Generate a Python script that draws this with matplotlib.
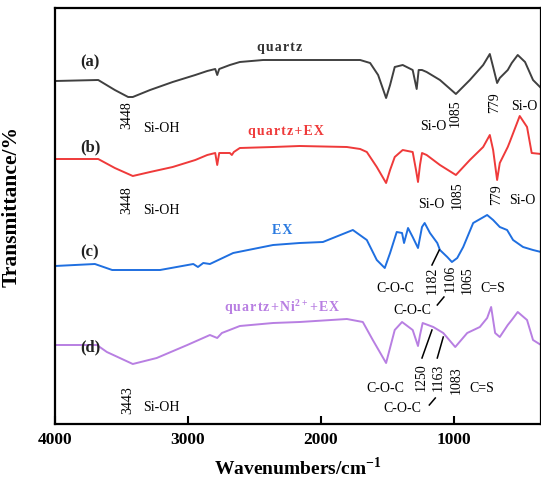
import matplotlib
matplotlib.use('Agg')
from matplotlib import pyplot as plt

plt.rcParams['font.family'] = ['Liberation Serif', 'DejaVu Serif']
plt.rcParams['mathtext.fontset'] = 'custom'
plt.rcParams['mathtext.rm'] = 'Liberation Serif'
plt.rcParams['mathtext.bf'] = 'Liberation Serif:bold'

# wavenumbers (cm-1) and transmittance (arbitrary, offset)
wn_a = [4000, 3675, 3550, 3450, 3415, 3285, 3115, 2945, 2855, 2795, 2780, 2765, 2685, 2610,
        2435, 2160, 1705, 1630, 1570, 1510, 1480, 1445, 1385, 1310, 1280, 1265, 1240, 1205,
        1105, 985, 880, 780, 730, 705, 675, 655, 595, 565, 520, 465, 405, 345]
t_a = [349, 350, 340, 333, 333, 340, 348, 355, 359, 361, 355, 361, 365, 368,
       370, 370, 370, 367, 355, 332, 345, 363, 365, 360, 341, 360, 360, 358,
       350, 336, 350, 365, 376, 363, 347, 352, 360, 367, 375, 368, 350, 342]

wn_b = [4000, 3675, 3550, 3415, 3285, 3115, 2945, 2855, 2795, 2780, 2765, 2685, 2670, 2655,
        2610, 2360, 2160, 1805, 1705, 1655, 1580, 1510, 1480, 1445, 1385, 1310, 1285, 1270,
        1255, 1240, 1205, 1105, 985, 880, 780, 730, 705, 675, 655, 595, 580, 505, 450, 415, 345]
t_b = [271, 271, 262, 254, 258, 263, 270, 275, 277, 265, 277, 277, 275, 278,
       282, 283, 284, 283, 281, 278, 263, 247, 260, 273, 280, 278, 260, 248,
       265, 277, 275, 265, 255, 270, 283, 295, 280, 250, 267, 283, 288, 314, 303, 277, 276]

wn_c = [4000, 3700, 3570, 3210, 2960, 2925, 2885, 2835, 2660, 2360, 2160, 1985, 1760, 1655,
        1580, 1520, 1480, 1430, 1390, 1375, 1345, 1310, 1270, 1240, 1220, 1180, 1125, 1105,
        1050, 1015, 975, 930, 855, 750, 705, 655, 600, 555, 480, 405, 345]
t_c = [164, 166, 160, 160, 166, 163, 167, 166, 177, 185, 187, 188, 200, 190,
       170, 162, 177, 198, 197, 187, 202, 193, 182, 203, 207, 197, 187, 180,
       173, 168, 172, 183, 207, 215, 210, 203, 200, 190, 183, 180, 178]

wn_d = [4000, 3685, 3610, 3415, 3235, 3005, 2835, 2780, 2745, 2610, 2360, 2160, 1805, 1685,
        1610, 1510, 1445, 1390, 1310, 1285, 1270, 1255, 1235, 1155, 1080, 990, 900, 805,
        750, 720, 690, 655, 595, 565, 520, 450, 405, 345]
t_d = [85, 85, 78, 66, 72, 85, 95, 92, 97, 104, 107, 108, 111, 108,
       90, 67, 100, 108, 100, 90, 84, 95, 107, 103, 97, 83, 97, 103,
       112, 123, 97, 93, 105, 110, 118, 110, 90, 85]

series = [(wn_a, t_a, '#404040'), (wn_b, t_b, '#ef3a3a'),
          (wn_c, t_c, '#1f6fe0'), (wn_d, t_d, '#b87fe2')]

fig = plt.figure(figsize=(5.41, 4.86), dpi=100)
ax = fig.add_axes([55 / 541, 62 / 486, 1 - 55 / 541, 416 / 486])

for wn, t, c in series:
    ax.plot(wn, t, color=c, lw=1.4)

ax.set_xlim(4000, 345)
ax.set_ylim(6, 422)
ax.set_xticks([4000, 3000, 2000, 1000])
ax.set_yticks([])
ax.tick_params(axis='x', direction='in', length=6, width=1.5, pad=6, labelsize=12.5)
for lab in ax.get_xticklabels():
    lab.set_fontweight('bold')
for s in ax.spines.values():
    s.set_linewidth(1.6)

ax.set_xlabel('Wavenumbers/cm$^{\\mathbf{-1}}$', fontsize=14, fontweight='bold', labelpad=6)
ax.set_ylabel('Transmittance/%', fontsize=15.5, fontweight='bold')
ax.yaxis.set_label_coords(-0.068, 0.524)

# curve letters
for txt, y in [('(a)', 368), ('(b)', 283), ('(c)', 178), ('(d)', 83)]:
    ax.text(3737, y, txt, fontsize=12, fontweight='bold', ha='center', va='center', color='#222222')

# sample names (letter spaced)
def spaced(s):
    return '\u200a'.join(s)

ax.text(2308, 382, spaced('quartz'), fontsize=10, fontweight='bold', ha='center', va='center', color='#333333')
ax.text(2263, 298, spaced('quartz+EX'), fontsize=10, fontweight='bold', ha='center', va='center', color='#ef3a3a')
ax.text(2293, 200, spaced('EX'), fontsize=10, fontweight='bold', ha='center', va='center', color='#2a7ae0')
ax.text(2293, 123, spaced('quartz+Ni') + '$^{\\mathbf{2+}}$' + spaced('+EX'), fontsize=10, fontweight='bold',
        ha='center', va='center', color='#b87fe2')

fs = 10
def rot(x, y, s):
    ax.text(x, y, s, fontsize=fs, rotation=90, ha='center', va='center')

def lab(x, y, s, ha='center'):
    ax.text(x, y, s, fontsize=fs, ha=ha, va='center')

# (a)
rot(3459, 315, '3448'); lab(3340, 302, 'Si-OH', ha='left')
lab(1157, 304, 'Si-O'); rot(992, 317, '1085'); rot(691, 327, '779'); lab(473, 323, 'Si-O')
# (b)
rot(3459, 230, '3448'); lab(3340, 219, 'Si-OH', ha='left')
lab(1172, 225, 'Si-O'); rot(977, 235, '1085'); rot(676, 235, '779'); lab(488, 230, 'Si-O')
# (c)
lab(1443, 142, 'C-O-C'); rot(1165, 150, '1182'); rot(1030, 152, '1106'); rot(900, 150, '1065')
lab(705, 142, 'C=S'); lab(1310, 120, 'C-O-C')
ax.plot([1165, 1110], [165, 180], color='black', lw=1.1)
ax.plot([1125, 1075], [125, 133], color='black', lw=1.1)
# (d)
rot(3451, 30, '3443'); lab(3340, 23, 'Si-OH', ha='left')
lab(1518, 42, 'C-O-C'); rot(1248, 53, '1250'); rot(1120, 53, '1163'); rot(985, 50, '1083')
lab(790, 42, 'C=S'); lab(1390, 22, 'C-O-C')
ax.plot([1240, 1165], [72, 100], color='black', lw=1.1)
ax.plot([1125, 1080], [72, 93], color='black', lw=1.1)
ax.plot([1185, 1140], [25, 32], color='black', lw=1.1)

fig.savefig('out.png', dpi=100)
